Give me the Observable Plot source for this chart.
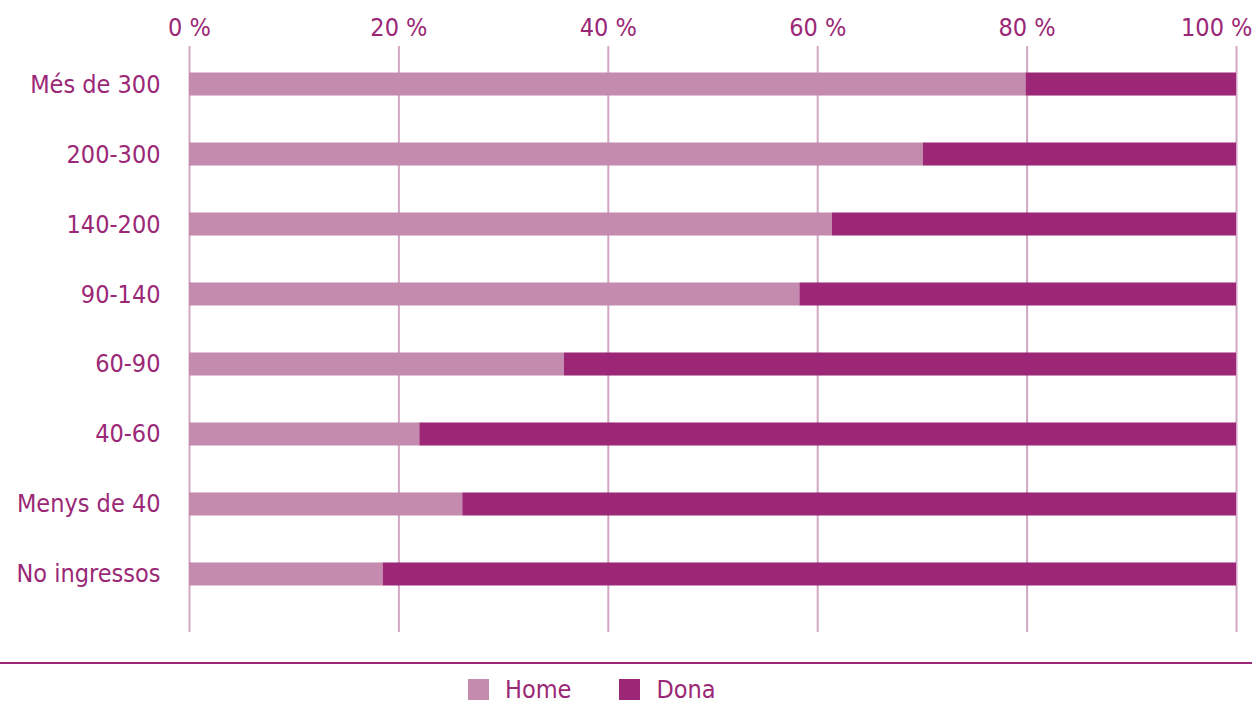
<!DOCTYPE html>
<html>
<head>
<meta charset="utf-8">
<script src="https://cdn.jsdelivr.net/npm/d3@7"></script>
<script src="https://cdn.jsdelivr.net/npm/@observablehq/plot@0.6"></script>
<style>
  body { margin: 0; background: #fff; font-family: "Liberation Sans Narrow", "DejaVu Sans Condensed", sans-serif; }
  #chart svg { display: block; }
  .rule { height: 2px; background: #9B2876; width: 1252px; }
  .legend { display: flex; align-items: center; margin-left: 468px; height: 31px; padding-top: 10px; color: #9B2876; font-size: 25px; }
  .legend .item { display: flex; align-items: center; margin-right: 48px; }
  .legend .sw { width: 21px; height: 21px; margin-right: 16px; }
</style>
</head>
<body>
<div id="chart"></div>
<div class="rule"></div>
<div class="legend" id="legend"></div>
<script>
const categories = ["Més de 300", "200-300", "140-200", "90-140", "60-90", "40-60", "Menys de 40", "No ingressos"];
const home = [79.9, 70.1, 61.4, 58.3, 35.8, 22.0, 26.1, 18.5];
const dona = [20.1, 29.9, 38.6, 41.7, 64.2, 78.0, 73.9, 81.5];
const seriesNames = ["Home", "Dona"];
const seriesColors = ["#C48BAF", "#9B2776"];
const xTicks = [0, 20, 40, 60, 80, 100];

const data = [];
categories.forEach((c, i) => {
  data.push({cat: c, sex: "Home", value: home[i]});
  data.push({cat: c, sex: "Dona", value: dona[i]});
});

const textColor = "#9B2876";
const fmt = d => d + " %";
const plot = Plot.plot({
  width: 1258,
  height: 662,
  marginLeft: 189,
  marginRight: 22,
  marginTop: 46,
  marginBottom: 30,
  style: {fontFamily: '"Liberation Sans Narrow", "DejaVu Sans Condensed", sans-serif', color: textColor, background: "#fff"},
  x: {domain: [0, 100], label: null},
  y: {domain: categories, label: null, paddingInner: 0.671, paddingOuter: 0.3, insetTop: 5.5, insetBottom: 25.5, round: false},
  color: {domain: seriesNames, range: seriesColors},
  marks: [
    Plot.ruleX(xTicks, {stroke: "#D3A6C4", strokeWidth: 2}),
    Plot.barX(data, Plot.stackX({y: "cat", x: "value", fill: "sex", order: seriesNames})),
    Plot.axisX(xTicks.slice(0, -1), {anchor: "top", tickSize: 0, tickPadding: 11, tickFormat: fmt, fontSize: 25, fill: textColor}),
    Plot.axisX(xTicks.slice(-1), {anchor: "top", tickSize: 0, tickPadding: 11, tickFormat: fmt, fontSize: 25, fill: textColor, textAnchor: "end", dx: 16}),
    Plot.axisY({anchor: "left", tickSize: 0, tickPadding: 29, fontSize: 25, fill: textColor})
  ]
});
document.getElementById("chart").appendChild(plot);

const legend = document.getElementById("legend");
seriesNames.forEach((n, i) => {
  const item = document.createElement("div");
  item.className = "item";
  const sw = document.createElement("div");
  sw.className = "sw";
  sw.style.background = seriesColors[i];
  const t = document.createElement("span");
  t.textContent = n;
  item.appendChild(sw);
  item.appendChild(t);
  legend.appendChild(item);
});
</script>
</body>
</html>
